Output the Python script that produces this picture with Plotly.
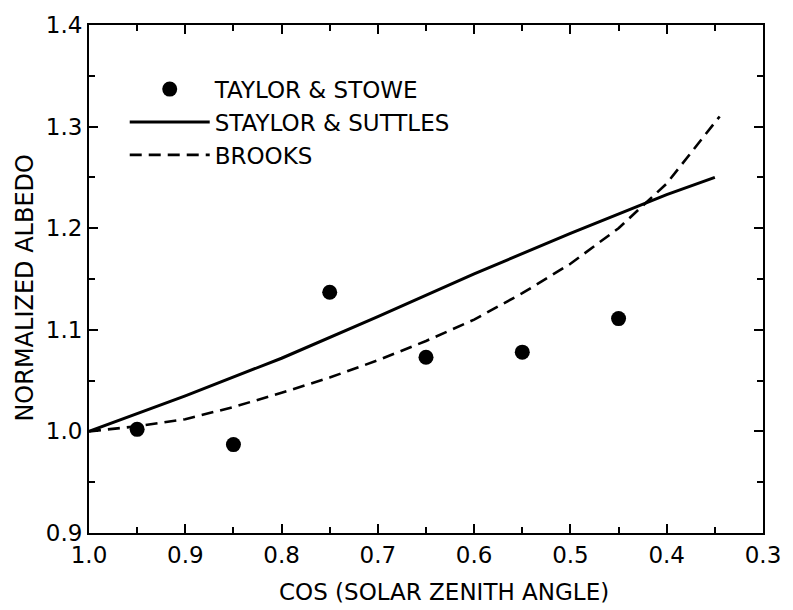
import plotly.graph_objects as go

# Taylor & Stowe observations
ts_x = [0.95, 0.85, 0.75, 0.65, 0.55, 0.45]
ts_y = [1.002, 0.987, 1.137, 1.073, 1.078, 1.111]

# Staylor & Suttles (solid)
ss_x = [1.0, 0.9, 0.8, 0.7, 0.6, 0.5, 0.4, 0.35]
ss_y = [1.0, 1.035, 1.072, 1.113, 1.155, 1.195, 1.233, 1.25]

# Brooks (dashed)
br_x = [1.0, 0.95, 0.9, 0.85, 0.8, 0.75, 0.7, 0.65, 0.6, 0.55, 0.5, 0.45, 0.4, 0.345]
br_y = [1.0, 1.005, 1.012, 1.024, 1.038, 1.053, 1.07, 1.089, 1.11, 1.136, 1.165, 1.2, 1.244, 1.31]

x_ticks = [1.0, 0.9, 0.8, 0.7, 0.6, 0.5, 0.4, 0.3]
y_ticks = [0.9, 1.0, 1.1, 1.2, 1.3, 1.4]

FONT = "DejaVu Sans"

fig = go.Figure()
fig.add_trace(go.Scatter(x=ts_x, y=ts_y, mode="markers", name="TAYLOR &amp; STOWE",
                         marker=dict(color="black", size=15)))
fig.add_trace(go.Scatter(x=ss_x, y=ss_y, mode="lines", name="STAYLOR &amp; SUTTLES",
                         line=dict(color="black", width=3)))
fig.add_trace(go.Scatter(x=br_x, y=br_y, mode="lines", name="BROOKS",
                         line=dict(color="black", width=2.6, dash="12px,7px")))

axis_common = dict(
    showgrid=False, zeroline=False, showline=True, linecolor="black", linewidth=2,
    mirror="allticks", ticks="inside", ticklen=9, tickwidth=2, tickcolor="black",
    tickfont=dict(family=FONT, size=23, color="black"),
)

fig.update_xaxes(range=[1.0, 0.3], tickvals=x_ticks, tickformat=".1f",
                 minor=dict(dtick=0.05, tick0=0.3, ticks="inside", ticklen=6, tickwidth=1.5,
                            tickcolor="black"),
                 **axis_common)
fig.update_yaxes(range=[0.9, 1.4], tickvals=y_ticks, tickformat=".1f",
                 minor=dict(dtick=0.05, tick0=0.9, ticks="inside", ticklen=6, tickwidth=1.5,
                            tickcolor="black"),
                 **axis_common)

fig.add_annotation(text="COS (SOLAR ZENITH ANGLE)", xref="paper", yref="paper",
                   x=0.526, y=-0.117, xanchor="center", yanchor="middle", showarrow=False,
                   font=dict(family=FONT, size=23, color="black"))
fig.add_annotation(text="NORMALIZED ALBEDO", xref="paper", yref="paper",
                   x=-0.095, y=0.483, xanchor="center", yanchor="middle",
                   showarrow=False, textangle=-90,
                   font=dict(family=FONT, size=24, color="black"))

fig.update_layout(
    width=793, height=610,
    margin=dict(l=89, r=20, t=23, b=77),
    paper_bgcolor="white", plot_bgcolor="white",
    showlegend=True,
    legend=dict(x=0.053, y=0.916, xanchor="left", yanchor="top",
                bgcolor="rgba(0,0,0,0)", borderwidth=0,
                font=dict(family=FONT, size=23, color="black"),
                itemwidth=80, tracegroupgap=6),
)

fig.write_html("out.html")
